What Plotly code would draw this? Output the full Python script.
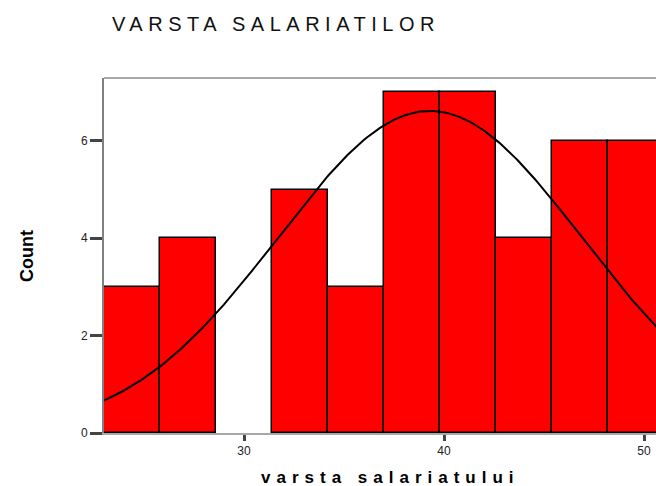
import numpy as np
import plotly.graph_objects as go

# ---- data ----
bin_start = 23.0
bin_width = 2.8
counts = [3, 4, 0, 5, 3, 7, 7, 4, 6, 6]
fit_mean = 39.3
fit_sd = 7.6
n_total = sum(counts)
x_ticks = [30, 40, 50]
y_ticks = [0, 2, 4, 6]
title_text = "VARSTA SALARIATILOR"
x_title = "varsta salariatului"
y_title = "Count"

centers = [bin_start + bin_width * (i + 0.5) for i in range(len(counts))]
outline_w = [1.5 if c > 0 else 0 for c in counts]

# fitted normal curve (scaled to counts)
xc = np.linspace(bin_start, bin_start + bin_width * len(counts), 300)
yc = n_total * bin_width / (fit_sd * np.sqrt(2 * np.pi)) * np.exp(-0.5 * ((xc - fit_mean) / fit_sd) ** 2)

W, H = 656, 486
ml, mt = 104, 78
plot_bottom = 433
mb = H - plot_bottom
mr = 0
plot_w = W - ml - mr
plot_h = plot_bottom - mt

fig = go.Figure()
fig.add_trace(go.Bar(
    x=centers, y=counts, width=bin_width,
    marker=dict(color="#FF0000", line=dict(color="#000000", width=outline_w)),
    hoverinfo="x+y",
))
fig.add_trace(go.Scatter(
    x=xc, y=yc, mode="lines",
    line=dict(color="#000000", width=2),
    hoverinfo="skip",
))

font_fam = "Arial, 'Liberation Sans', sans-serif"

fig.update_layout(
    width=W, height=H,
    margin=dict(l=ml, r=mr, t=mt, b=mb, pad=0),
    paper_bgcolor="white", plot_bgcolor="white",
    showlegend=False,
    bargap=0,
    font=dict(family=font_fam, color="#222222"),
    title=dict(
        text='<span style="letter-spacing:5.5px">' + title_text + '</span>',
        x=112 / W, xanchor="left", xref="container",
        y=1 - 24 / H, yanchor="middle", yref="container",
        font=dict(size=20, color="#111111", family=font_fam),
    ),
    xaxis=dict(
        range=[bin_start, bin_start + plot_w / 20.0],
        tickmode="array", tickvals=x_ticks, ticktext=[str(v) for v in x_ticks],
        ticks="outside", ticklen=6, tickwidth=3, tickcolor="#444444",
        tickfont=dict(size=12, color="#222222"),
        showline=True, linecolor="#A8A8A8", linewidth=1.5, mirror=False,
        showgrid=False, zeroline=False,
    ),
    yaxis=dict(
        range=[0, 7.29],
        tickmode="array", tickvals=y_ticks, ticktext=[str(v) for v in y_ticks],
        ticks="outside", ticklen=12, tickwidth=2.5, tickcolor="#444444",
        tickfont=dict(size=12, color="#222222"),
        showline=True, linecolor="#808080", linewidth=2, mirror=False,
        showgrid=False, zeroline=False,
    ),
    shapes=[
        dict(type="line", xref="paper", yref="paper", x0=0, x1=1, y0=1, y1=1,
             line=dict(color="#555555", width=1.2)),
    ],
    annotations=[
        dict(text='<b><span style="letter-spacing:6px">' + x_title + '</span></b>',
             xref="paper", yref="paper",
             x=(390 - ml) / plot_w, y=-(477 - plot_bottom) / plot_h,
             xanchor="center", yanchor="middle", showarrow=False,
             font=dict(size=17, color="#000000", family=font_fam)),
        dict(text="<b>" + y_title + "</b>",
             xref="paper", yref="paper",
             x=(27 - ml) / plot_w, y=1 - (256 - mt) / plot_h,
             xanchor="center", yanchor="middle", showarrow=False, textangle=-90,
             font=dict(size=18, color="#000000", family=font_fam)),
    ],
)

fig.write_html(
    "out.html",
    config={"displayModeBar": False},
    post_script="document.body.style.margin='0px';document.body.style.overflow='hidden';",
)
